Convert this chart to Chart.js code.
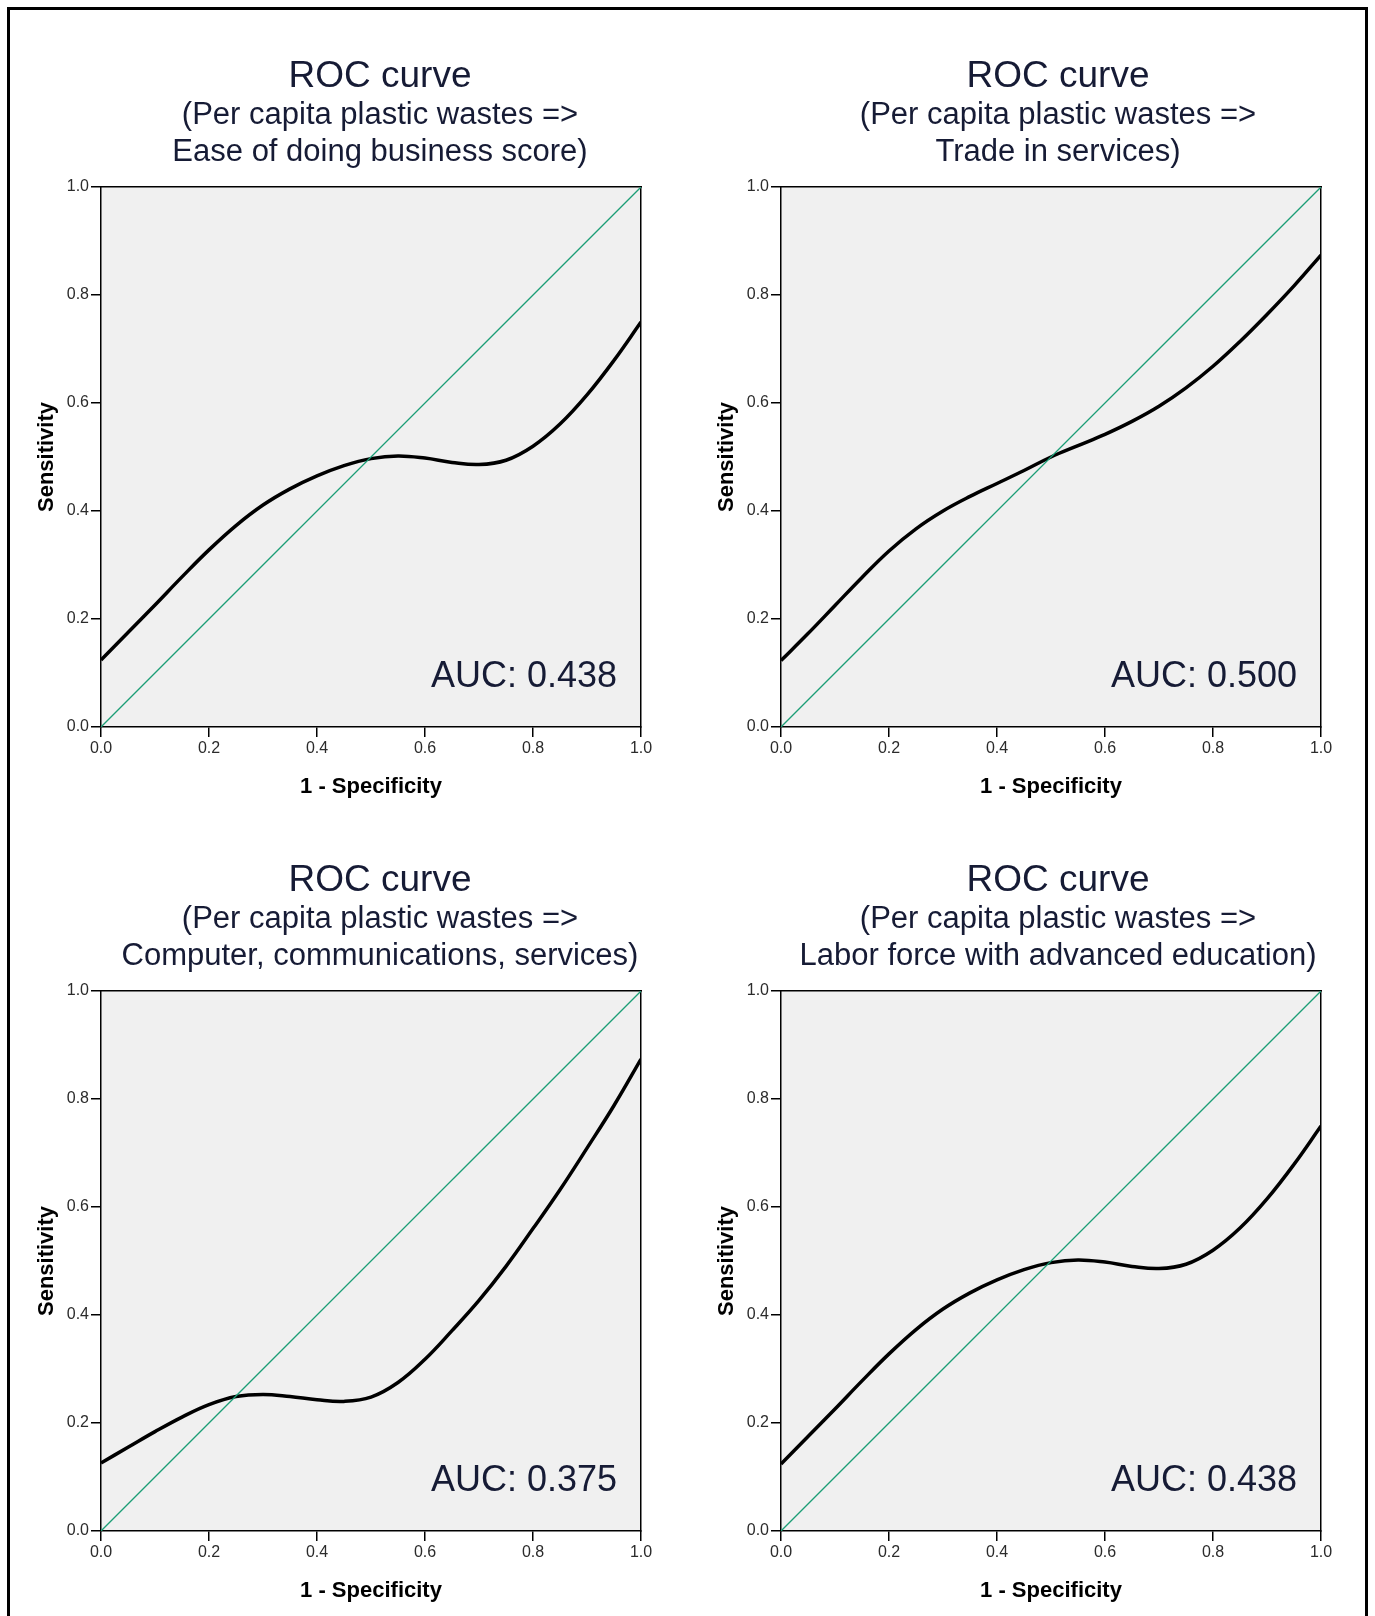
<!DOCTYPE html>
<html>
<head>
<meta charset="utf-8">
<script src="https://cdn.jsdelivr.net/npm/chart.js@4.4.1/dist/chart.umd.min.js"></script>
<style>
  html, body { margin: 0; padding: 0; background: #fff; overflow: hidden; width: 1375px; height: 1616px; }
  #frame { position: absolute; left: 7px; top: 7px; width: 1355px; height: 1700px; border: 3px solid #000; }
  canvas { position: absolute; }
</style>
</head>
<body>
<div id="frame"></div>
<canvas id="roc1" width="720" height="782" style="left:20px;top:20px"></canvas>
<canvas id="roc2" width="716" height="782" style="left:700px;top:20px"></canvas>
<canvas id="roc3" width="720" height="782" style="left:20px;top:824px"></canvas>
<canvas id="roc4" width="716" height="782" style="left:700px;top:824px"></canvas>
<script>
// 1 - specificity values where the curves were read
const fpr = [0, 0.05, 0.1, 0.15, 0.2, 0.25, 0.3, 0.35, 0.4, 0.45, 0.5,
             0.55, 0.6, 0.65, 0.7, 0.75, 0.8, 0.85, 0.9, 0.95, 1];

// sensitivity, one list per panel
const sensEase     = [0.124, 0.175, 0.226, 0.278, 0.328, 0.373, 0.411, 0.441, 0.465, 0.484, 0.497,
                      0.502, 0.498, 0.490, 0.486, 0.494, 0.520, 0.561, 0.615, 0.679, 0.750];
const sensTrade    = [0.123, 0.173, 0.225, 0.277, 0.326, 0.367, 0.400, 0.427, 0.451, 0.475, 0.500,
                      0.521, 0.542, 0.566, 0.594, 0.628, 0.668, 0.714, 0.764, 0.817, 0.874];
const sensComputer = [0.126, 0.155, 0.184, 0.211, 0.234, 0.249, 0.253, 0.249, 0.243, 0.240, 0.248,
                      0.275, 0.318, 0.371, 0.427, 0.490, 0.560, 0.632, 0.709, 0.788, 0.874];
const sensLabor    = [0.124, 0.175, 0.226, 0.278, 0.328, 0.373, 0.411, 0.441, 0.465, 0.484, 0.497,
                      0.502, 0.498, 0.490, 0.486, 0.494, 0.520, 0.561, 0.615, 0.679, 0.750];

// reference diagonal
const refX = [0, 1];
const refY = [0, 1];

const subtitles = [
  ['(Per capita plastic wastes =>', 'Ease of doing business score)'],
  ['(Per capita plastic wastes =>', 'Trade in services)'],
  ['(Per capita plastic wastes =>', 'Computer, communications, services)'],
  ['(Per capita plastic wastes =>', 'Labor force with advanced education)']
];
const aucLabels = ['AUC: 0.438', 'AUC: 0.500', 'AUC: 0.375', 'AUC: 0.438'];

const tickValues = [0, 0.2, 0.4, 0.6, 0.8, 1];
const tickLabels = ['0.0', '0.2', '0.4', '0.6', '0.8', '1.0'];

const FONT = '"Liberation Sans", Arial, Helvetica, sans-serif';
const NAVY = '#161b35';

// grey plot area like SPSS
const plotBg = {
  id: 'plotBg',
  beforeDraw(chart) {
    const { ctx, chartArea: a } = chart;
    ctx.save();
    ctx.fillStyle = '#f0f0f0';
    ctx.fillRect(a.left, a.top, a.width, a.height);
    ctx.restore();
  }
};

const aucText = {
  id: 'aucText',
  afterDatasetsDraw(chart, args, opts) {
    const { ctx, chartArea: a } = chart;
    ctx.save();
    ctx.font = '36px ' + FONT;
    ctx.fillStyle = NAVY;
    ctx.textAlign = 'right';
    ctx.textBaseline = 'middle';
    ctx.fillText(opts.text, a.right - 24, a.bottom - 50);
    ctx.restore();
  }
};

function makeRoc(canvasId, sens, subtitle, auc, rightSpace) {
  const axisTicks = {
    font: { size: 16, family: FONT },
    color: '#2b2b2b',
    maxRotation: 0,
    autoSkip: false,
    callback: (v, i) => tickLabels[i]
  };
  const tickGrid = { display: true, drawOnChartArea: false, drawTicks: true, tickLength: 10, color: '#000', lineWidth: 1.5 };
  const edge = { display: true, color: '#000', width: 1.5 };

  return new Chart(document.getElementById(canvasId), {
    type: 'line',
    data: {
      datasets: [
        {
          data: refX.map((x, i) => ({ x: x, y: refY[i] })),
          borderColor: '#1c9e76',
          borderWidth: 1.3,
          pointRadius: 0,
          tension: 0
        },
        {
          data: fpr.map((x, i) => ({ x: x, y: sens[i] })),
          borderColor: '#000',
          borderWidth: 3.5,
          pointRadius: 0,
          tension: 0.4
        }
      ]
    },
    options: {
      responsive: false,
      animation: false,
      devicePixelRatio: 1,
      layout: { padding: 0 },
      plugins: {
        legend: { display: false },
        tooltip: { enabled: false },
        title: {
          display: true,
          text: 'ROC curve',
          color: NAVY,
          font: { size: 37, family: FONT, weight: 'normal', lineHeight: 1.1 },
          padding: { top: 36.65, bottom: 0 }
        },
        subtitle: {
          display: true,
          text: subtitle,
          color: NAVY,
          font: { size: 31, family: FONT, weight: 'normal', lineHeight: 37 / 31 },
          padding: { top: 0, bottom: 15.65 }
        },
        aucText: { text: auc }
      },
      scales: {
        x: {
          type: 'linear', position: 'bottom', min: 0, max: 1,
          afterBuildTicks: s => { s.ticks = tickValues.map(v => ({ value: v })); },
          afterFit: s => { s.height = 75; },
          grid: tickGrid,
          border: edge,
          ticks: Object.assign({ padding: 2.4 }, axisTicks),
          title: {
            display: true, text: '1 - Specificity', color: '#000',
            font: { size: 22, weight: 'bold', family: FONT },
            padding: { top: 0, bottom: 1.4 }
          }
        },
        y: {
          type: 'linear', position: 'left', min: 0, max: 1,
          afterBuildTicks: s => { s.ticks = tickValues.map(v => ({ value: v })); },
          afterFit: s => { s.width = 81; },
          grid: tickGrid,
          border: edge,
          ticks: Object.assign({ padding: 2 }, axisTicks),
          title: {
            display: true, text: 'Sensitivity', color: '#000',
            font: { size: 22, weight: 'bold', family: FONT },
            padding: { top: 13.4, bottom: 0 }
          }
        },
        // top and right frame lines of the plot box
        x2: {
          type: 'linear', position: 'top', min: 0, max: 1,
          grid: { display: false }, ticks: { display: false }, border: edge,
          afterFit: s => { s.height = 0; }
        },
        y2: {
          type: 'linear', position: 'right', min: 0, max: 1,
          grid: { display: false }, ticks: { display: false }, border: edge,
          afterFit: s => { s.width = rightSpace; }
        }
      }
    },
    plugins: [plotBg, aucText]
  });
}

makeRoc('roc1', sensEase, subtitles[0], aucLabels[0], 99);
makeRoc('roc2', sensTrade, subtitles[1], aucLabels[1], 95);
makeRoc('roc3', sensComputer, subtitles[2], aucLabels[2], 99);
makeRoc('roc4', sensLabor, subtitles[3], aucLabels[3], 95);
</script>
</body>
</html>
